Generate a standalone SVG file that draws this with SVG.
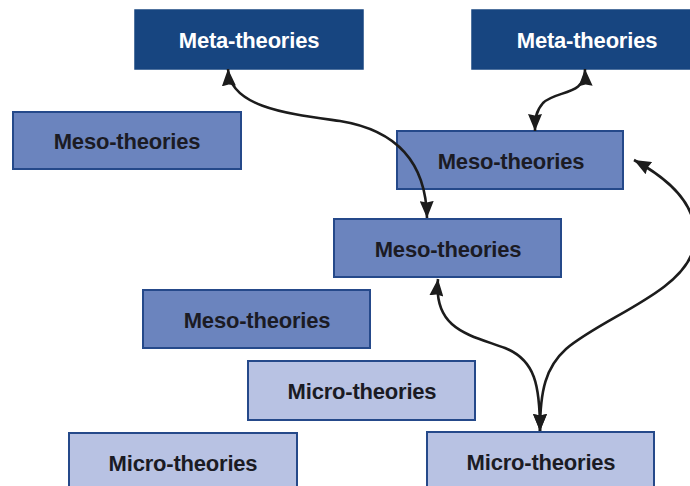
<svg xmlns="http://www.w3.org/2000/svg" width="690" height="486" viewBox="0 0 690 486">
<style>
.meta rect{fill:#174580;stroke:#174580;stroke-width:1.5}
.meso rect{fill:#6b84be;stroke:#25498a;stroke-width:2}
.micro rect{fill:#b8c2e3;stroke:#25498a;stroke-width:2}
text{font-family:"Liberation Sans",Arial,sans-serif;font-weight:bold;font-size:22px;text-anchor:middle;letter-spacing:-0.2px}
.meta text{fill:#ffffff}
.meso text,.micro text{fill:#1b1b24}
.conn path{fill:none;stroke:#1c1c1c;stroke-width:2.6;marker-start:url(#ah);marker-end:url(#ah)}
</style>
<defs>
<marker id="ah" markerUnits="userSpaceOnUse" markerWidth="18" markerHeight="14" refX="17" refY="7" orient="auto-start-reverse" viewBox="0 0 18 14">
<path d="M0,0 L17,7 L0,14 L1.5,7 z" fill="#1c1c1c"/>
</marker>
</defs>
<rect width="690" height="486" fill="#ffffff"/>
<g id="meta1" class="meta"><rect x="135" y="10" width="228" height="59"/><text x="249" y="47.5">Meta-theories</text></g>
<g id="meta2" class="meta"><rect x="472" y="10" width="232" height="59"/><text x="587" y="47.5">Meta-theories</text></g>
<g id="meso1" class="meso"><rect x="13" y="112" width="228" height="57"/><text x="127" y="148.5">Meso-theories</text></g>
<g id="meso2" class="meso"><rect x="397" y="131" width="226" height="58"/><text x="511" y="168.5">Meso-theories</text></g>
<g id="meso3" class="meso"><rect x="334" y="219" width="227" height="58"/><text x="448" y="256.5">Meso-theories</text></g>
<g id="meso4" class="meso"><rect x="143" y="290" width="227" height="58"/><text x="257" y="327.5">Meso-theories</text></g>
<g id="micro1" class="micro"><rect x="248" y="361" width="227" height="59"/><text x="362" y="398.5">Micro-theories</text></g>
<g id="micro2" class="micro"><rect x="69" y="433" width="228" height="62"/><text x="183" y="471">Micro-theories</text></g>
<g id="micro3" class="micro"><rect x="427" y="432" width="227" height="62"/><text x="541" y="470">Micro-theories</text></g>
<g id="connectors" class="conn">
<path d="M228,69 C230,108 290,114 340,121 C395,130 426,160 427,218"/>
<path d="M585,69 C586,96 556,90 543,103 C536,111 535,118 535,131"/>
<path d="M438,279 C433,330 470,335 505,348 C535,360 540,385 540,431"/>
<path d="M634,160 C680,185 702,215 693,250 C682,292 602,318 566,349 C546,367 540,390 540,431"/>
</g>
</svg>
